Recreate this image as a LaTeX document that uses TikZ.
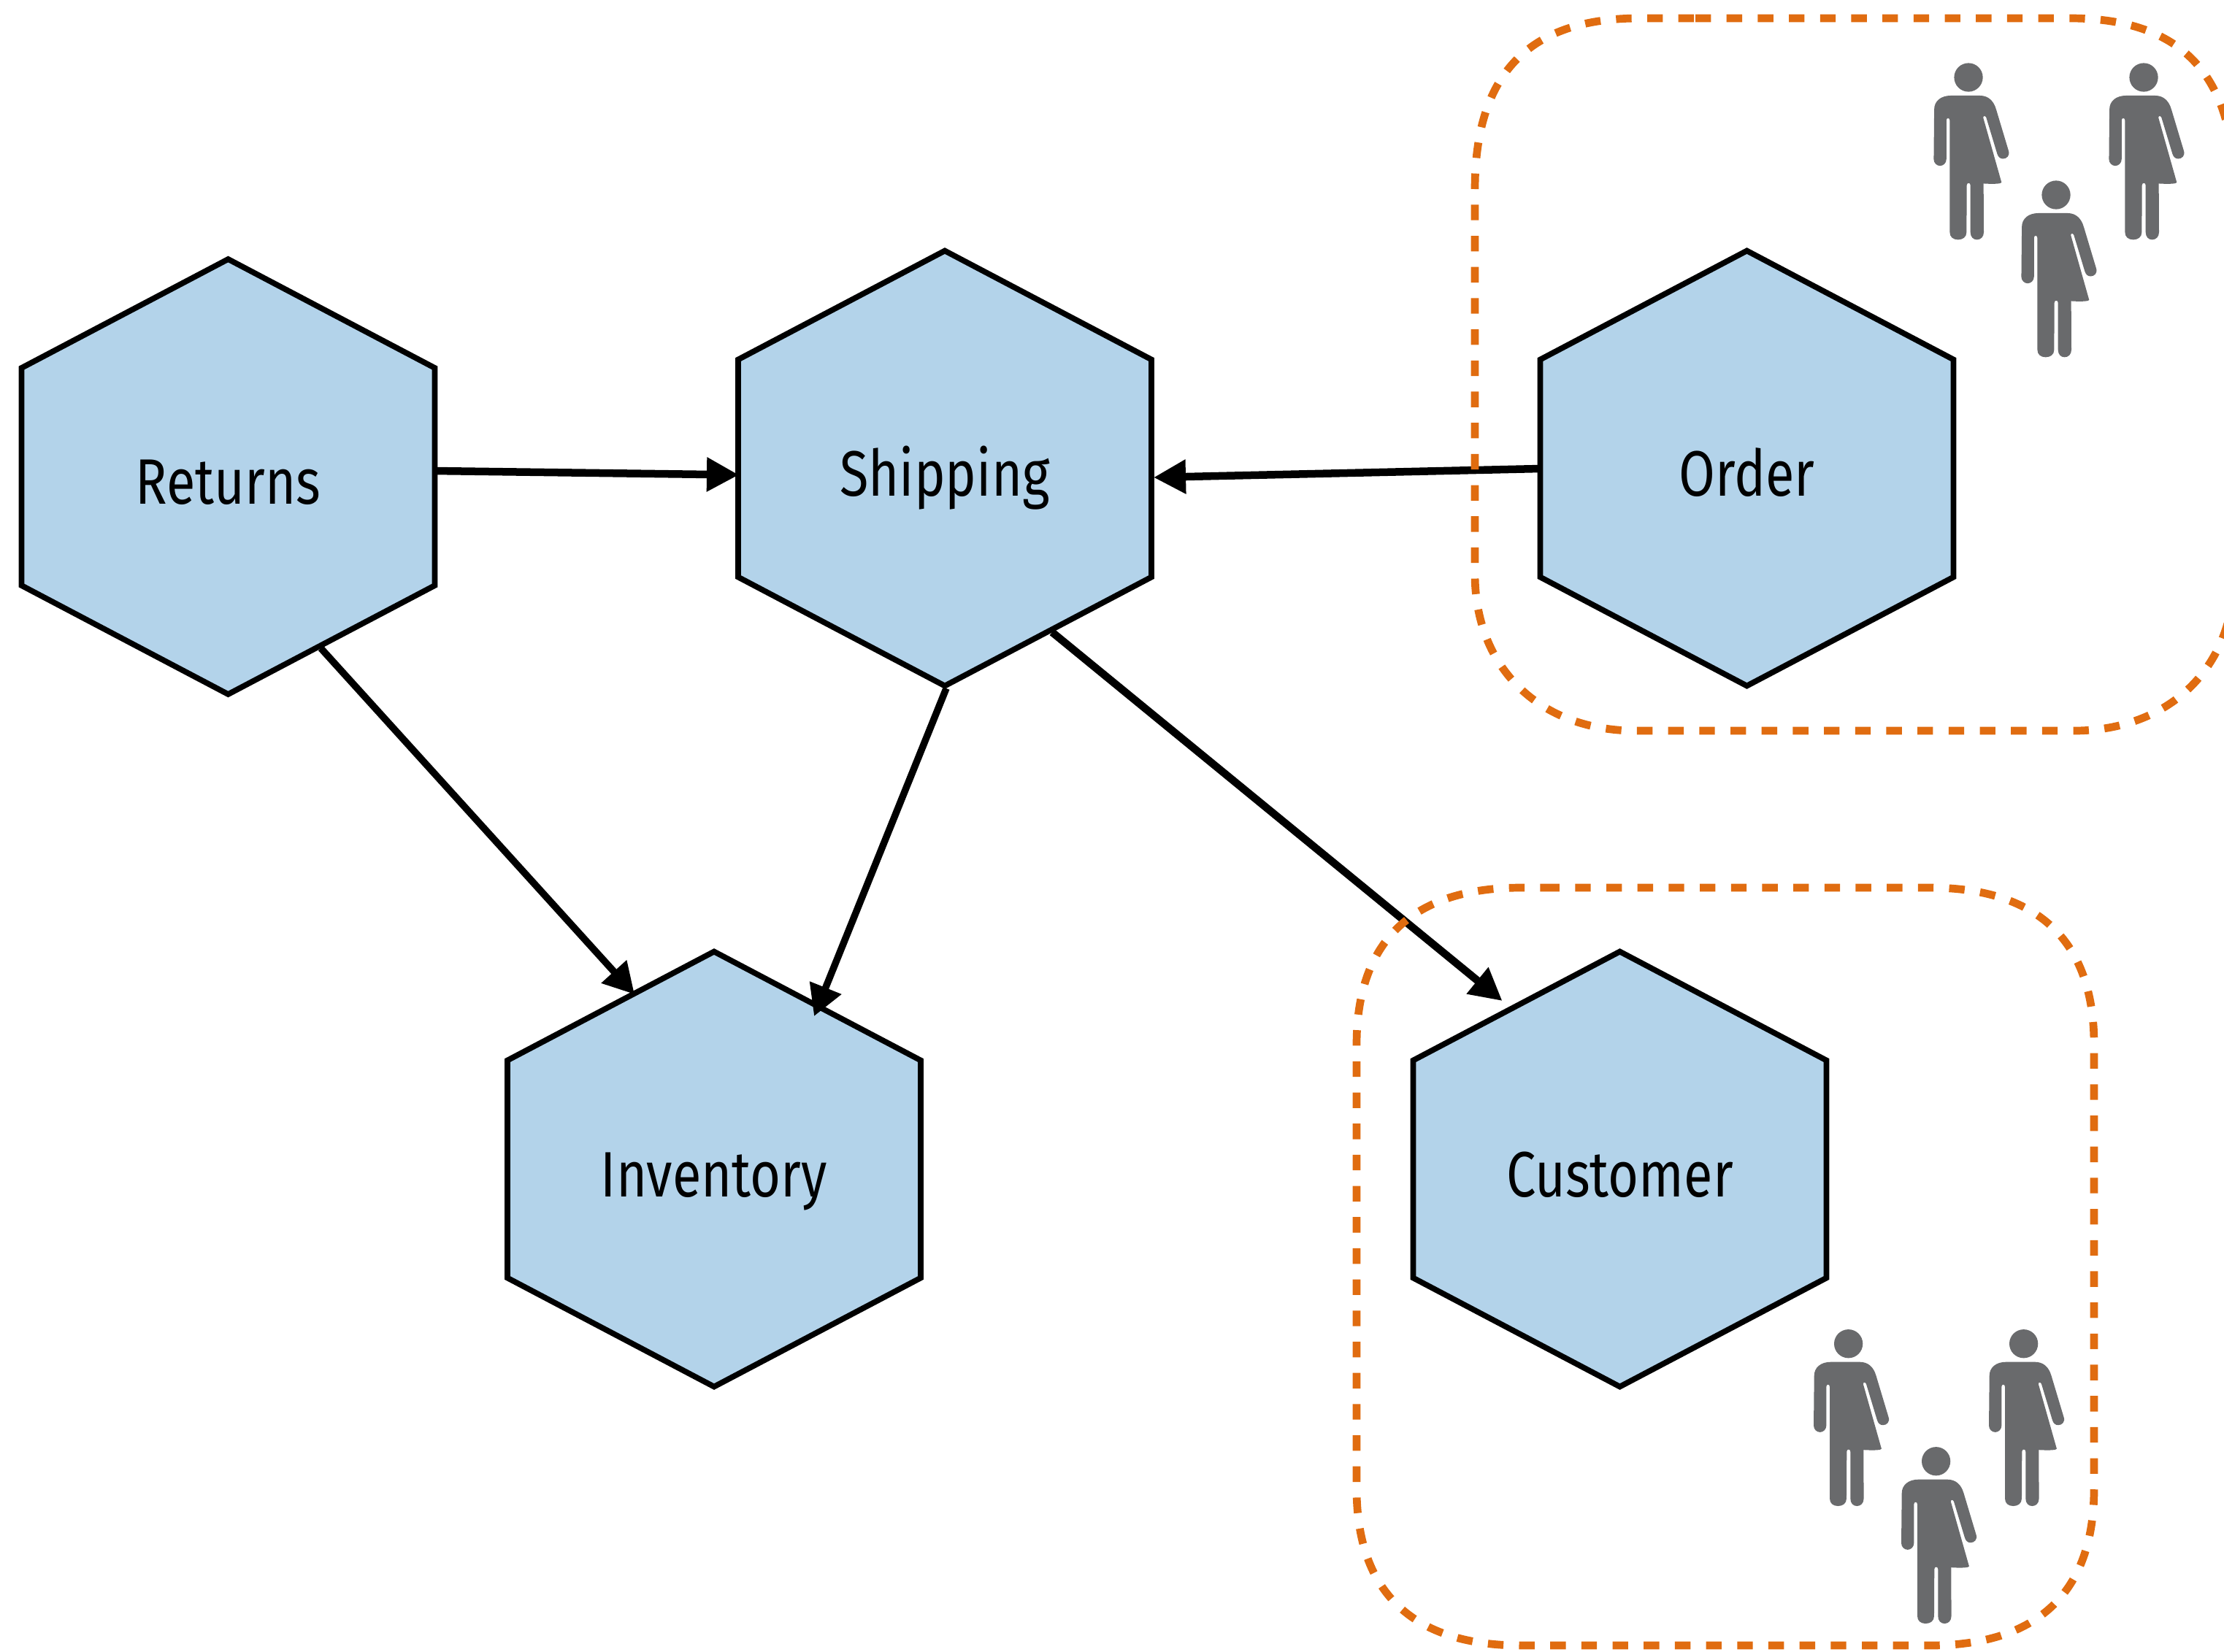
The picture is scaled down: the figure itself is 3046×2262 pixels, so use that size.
\documentclass[tikz,border=0pt]{standalone}
\usepackage{fontspec}
\usetikzlibrary{arrows.meta,backgrounds}
\newfontfamily\hexfont[FakeStretch=0.82]{Fira Sans}
\definecolor{hexfill}{RGB}{179,211,234}
\definecolor{dashorange}{RGB}{224,108,16}
\definecolor{persongrey}{RGB}{105,106,108}
\tikzset{
  hexlabel/.style={rectangle,inner sep=0pt,minimum width=5.66cm,minimum height=5.94cm,
    font=\hexfont\fontsize{25}{30}\selectfont,text height=.75cm,text depth=0cm,text=black},
  hexshape/.style={draw=black,fill=hexfill,line width=.077cm,miter limit=10},
  thickarrow/.style={draw=black,line width=.105cm,-{Triangle[length=.44cm,width=.445cm]}},
  thinarrow/.style={draw=black,line width=.095cm,-{Triangle[length=.42cm,width=.445cm]}},
  groupline/.style={draw=dashorange,line width=.107cm,dash pattern=on .2133cm off .2133cm},
  person/.pic={
    \fill[persongrey,x=.0033333cm,y=-.0033333cm,shift={(-288,-138)}]
      (288,138) circle[radius=59]
      (215,213) -- (335,213) .. controls (370,213) and (392,235) .. (402,270)
      -- (453,440) .. controls (460,460) and (445,473) .. (430,473) .. controls (418,473) and (410,465) .. (406,452)
      -- (361,303) .. controls (358,295) and (347,295) .. (349,305)
      -- (424,570) .. controls (425,575) and (400,578) .. (350,575)
      -- (351,775) .. controls (351,795) and (338,806) .. (323,806) .. controls (308,806) and (296,795) .. (296,775)
      -- (296,582) .. controls (296,570) and (281,570) .. (281,582)
      -- (280,775) .. controls (280,795) and (265,806) .. (245,806) .. controls (225,806) and (211,795) .. (211,775)
      -- (211,315) .. controls (211,303) and (197,303) .. (197,315)
      -- (197,475) .. controls (197,490) and (185,502) .. (171,502) .. controls (157,502) and (145,490) .. (145,475)
      -- (147,270) .. controls (147,235) and (175,213) .. (215,213) -- cycle;
  }
}
\newcommand{\hexnode}[4]{%
  \node[hexlabel] (#1) at (#2,#3) {#4};
  \begin{scope}[on background layer]
    \draw[hexshape] ([shift={(0,-298)}]#1.center) -- ([shift={(283,-149)}]#1.center)
      -- ([shift={(283,149)}]#1.center) -- ([shift={(0,298)}]#1.center)
      -- ([shift={(-283,149)}]#1.center) -- ([shift={(-283,-149)}]#1.center) -- cycle;
  \end{scope}}
\begin{document}
\begin{tikzpicture}[x=.01cm,y=-.01cm]
\useasboundingbox (0,0) rectangle (3046,2262);
\hexnode{returns}{312.5}{653}{Returns}
\hexnode{shipping}{1294}{641.5}{Shipping}
\hexnode{order}{2392.5}{641.5}{Order}
\hexnode{inventory}{978}{1601.5}{Inventory}
\hexnode{customer}{2218.5}{1601.5}{Customer}

\draw[thickarrow] ([shift={(283,-8)}]returns.center) -- ([shift={(-282,9)}]shipping.center);
\draw[thickarrow] ([shift={(-284,0.5)}]order.center) -- ([shift={(286,12.5)}]shipping.center);
\draw[thinarrow] ([shift={(127,235)}]returns.center) -- ([shift={(-109,-239.5)}]inventory.center);
\draw[thinarrow] ([shift={(2,301.5)}]shipping.center) -- ([shift={(137,-209.5)}]inventory.center);
\draw[thickarrow] ([shift={(147,224.5)}]shipping.center) -- ([shift={(-161,-230.5)}]customer.center);

\pic at (2696,106) {person};
\pic at (2936,106) {person};
\pic at (2816,267) {person};
\pic at (2531.6,1840.7) {person};
\pic at (2771.6,1840.7) {person};
\pic at (2651.6,2001.7) {person};

\begin{scope}
\clip (0,0) rectangle (3046,2262);
\draw[groupline] (2322,25) -- (2835,25) .. controls (2990,25) and (3060,105) .. (3060,260) -- (3060,512);
\draw[groupline] (2320,25) -- (2245,25) .. controls (2090,25) and (2020,105) .. (2020,260)
  -- (2020,786) .. controls (2020,916) and (2110,1001) .. (2240,1001)
  -- (2840,1001) .. controls (2970,1001) and (3060,916) .. (3060,786) -- (3060,512);
\draw[groupline] (2114.6,1216) -- (2643,1216) .. controls (2788,1216) and (2868,1286) .. (2868,1431)
  -- (2868,2039) .. controls (2868,2184) and (2788,2254) .. (2643,2254)
  -- (2083,2254) .. controls (1938,2254) and (1858,2184) .. (1858,2039)
  -- (1858,1431) .. controls (1858,1286) and (1938,1216) .. (2083,1216) -- cycle;
\end{scope}
\end{tikzpicture}
\end{document}
